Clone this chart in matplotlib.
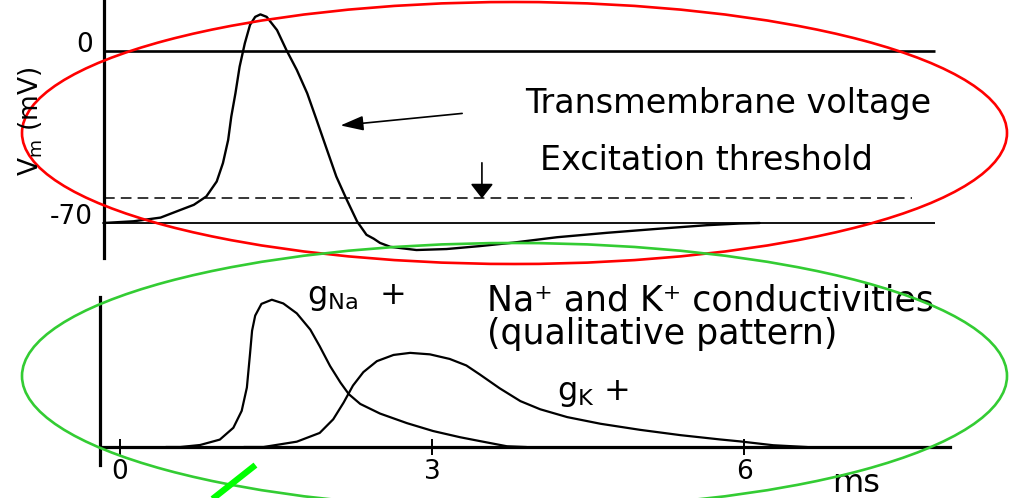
import matplotlib
matplotlib.use("Agg")
import matplotlib.pyplot as plt
from matplotlib.patches import Ellipse
from matplotlib.lines import Line2D
from matplotlib.transforms import offset_copy

plt.rcParams['font.family'] = ['DejaVu Sans']
plt.rcParams['mathtext.default'] = 'regular'

# membrane potential during one action potential (ms, mV)
t_vm = [-0.16, 0.13, 0.39, 0.58, 0.71, 0.83, 0.93, 0.99, 1.04, 1.07, 1.11, 1.15,
        1.20, 1.25, 1.30, 1.35, 1.41, 1.51, 1.60, 1.70, 1.80, 1.89, 1.99, 2.08,
        2.18, 2.28, 2.37, 2.44, 2.50, 2.60, 2.85, 3.14, 3.46, 3.78, 4.20, 4.68,
        5.16, 5.64, 5.96, 6.15]
vm = [-70.0, -69.3, -67.8, -64.7, -62.6, -59.2, -53.1, -45.6, -36.2, -26.7, -17.2, -6.4,
      3.1, 10.6, 13.9, 14.9, 13.9, 8.5, 0.4, -7.7, -17.2, -28.0, -40.2, -51.1,
      -60.5, -69.4, -74.8, -76.4, -78.1, -79.7, -81.0, -80.6, -79.4, -78.0, -75.8, -74.0,
      -72.4, -70.9, -70.2, -70.0]
v_rest = -70
v_zero = 0
v_thresh = -60

# sodium and potassium conductance, arbitrary units
t_na = [0.45, 0.58, 0.77, 0.96, 1.09, 1.17, 1.22, 1.25, 1.27, 1.30, 1.36, 1.46, 1.57,
        1.70, 1.83, 1.92, 2.02, 2.12, 2.20, 2.31, 2.50, 2.76, 3.01, 3.27, 3.46, 3.72, 3.90]
g_na = [0.0, 0.0, 0.0135, 0.05, 0.13, 0.244, 0.402, 0.628, 0.786, 0.888, 0.967, 0.995, 0.97,
        0.903, 0.793, 0.681, 0.547, 0.435, 0.357, 0.291, 0.226, 0.161, 0.108, 0.066, 0.04,
        0.005, 0.0]
t_k = [1.20, 1.38, 1.70, 1.92, 2.05, 2.15, 2.24, 2.34, 2.47, 2.63, 2.79, 2.98, 3.17,
       3.33, 3.46, 3.65, 3.85, 4.04, 4.30, 4.62, 5.00, 5.39, 5.77, 5.96, 6.28, 6.60]
g_k = [0.0, 0.0, 0.036, 0.095, 0.187, 0.30, 0.415, 0.506, 0.58, 0.622, 0.636, 0.626, 0.595,
       0.551, 0.49, 0.397, 0.31, 0.255, 0.202, 0.157, 0.116, 0.08, 0.051, 0.038, 0.012, 0.0]

time_ticks = [0, 3, 6]
time_labels = ['0', '3', '6']
vm_ticks = [0, -70]
vm_labels = ['0', '-70']

W, H = 1018, 498
fig = plt.figure(figsize=(W / 100, H / 100), dpi=100)

# both panels span the full width, 104 px per ms, t=0 at x=120 px
px_per_ms = 104.0
x0_px = 120.0
xlim = (-x0_px / px_per_ms, (W - x0_px) / px_per_ms)
t_end = (935 - x0_px) / px_per_ms

# ---- top panel: membrane voltage
top_px = 270
ax1 = fig.add_axes([0, 1 - top_px / H, 1, top_px / H])
mv_per_px = 70 / 172.0
ax1.set_xlim(*xlim)
ax1.set_ylim(-(top_px - 51) * mv_per_px, 51 * mv_per_px)
for s in ['top', 'right', 'bottom']:
    ax1.spines[s].set_visible(False)
t_axis1 = (104 - x0_px) / px_per_ms
ax1.spines['left'].set_position(('data', t_axis1))
ax1.spines['left'].set_bounds(-(258 - 51) * mv_per_px, 51 * mv_per_px)
ax1.spines['left'].set_linewidth(2.3)
ax1.set_xticks([])
ax1.set_yticks([])

# axis values sit a little above their lines
lab_tr = offset_copy(ax1.transData, fig=fig, x=-8, y=4, units='points')
for v, s in zip(vm_ticks, vm_labels):
    ax1.text(t_axis1, v, s, fontsize=19, ha='right', va='center', transform=lab_tr)

ax1.hlines(v_zero, t_axis1, t_end, color='black', lw=1.9)
ax1.hlines(v_rest, t_axis1, t_end, color='black', lw=1.3)
ax1.hlines(v_thresh, t_axis1, (912 - x0_px) / px_per_ms, color='black', lw=1.1,
           linestyles=(0, (7, 4)))
ax1.plot(t_vm, vm, color='black', lw=1.7, solid_capstyle='round', solid_joinstyle='round')

ax1.annotate('', xy=(2.12, -30.3), xytext=(3.29, -25.4),
             arrowprops=dict(arrowstyle='-|>,head_length=1.4,head_width=0.45',
                             color='black', lw=1.2, shrinkA=0, shrinkB=0))
ax1.annotate('', xy=(3.48, v_thresh), xytext=(3.48, -45.5),
             arrowprops=dict(arrowstyle='-|>,head_length=0.9,head_width=0.7',
                             color='black', lw=1.2, shrinkA=0, shrinkB=0))
ax1.text(5.85, -21.3, 'Transmembrane voltage', fontsize=24, ha='center', va='center')
ax1.text(5.64, -44.6, 'Excitation threshold', fontsize=24, ha='center', va='center')

fig.text(31 / W, 1 - 121 / H, 'V$_m$ (mV)', fontsize=19, rotation=90,
         ha='center', va='center')

# ---- bottom panel: conductances
bot_px = H - top_px
base_px = 447
g_per_px = 1 / 148.0
ax2 = fig.add_axes([0, 0, 1, bot_px / H])
ax2.set_xlim(*xlim)
ax2.set_ylim(-(H - base_px) * g_per_px, (base_px - top_px) * g_per_px)
for s in ['top', 'right']:
    ax2.spines[s].set_visible(False)
t_axis2 = (100 - x0_px) / px_per_ms
ax2.spines['left'].set_position(('data', t_axis2))
ax2.spines['left'].set_bounds(-(465 - base_px) * g_per_px, (base_px - 297) * g_per_px)
ax2.spines['left'].set_linewidth(2.3)
ax2.spines['bottom'].set_position(('data', 0))
ax2.spines['bottom'].set_bounds(t_axis2, (950 - x0_px) / px_per_ms)
ax2.spines['bottom'].set_linewidth(2.3)
ax2.set_yticks([])
ax2.set_xticks(time_ticks)
ax2.set_xticklabels(time_labels, fontsize=19)
ax2.tick_params(axis='x', direction='inout', length=11, width=1.4, pad=3)

ax2.plot(t_na, g_na, color='black', lw=1.6, solid_joinstyle='round')
ax2.plot(t_k, g_k, color='black', lw=1.6, solid_joinstyle='round')

ax2.text(1.8, (base_px - 304) * g_per_px, 'g$_{Na}$  +', fontsize=23,
         ha='left', va='baseline')
ax2.text(4.2, (base_px - 400) * g_per_px, 'g$_K$ +', fontsize=23,
         ha='left', va='baseline')
ax2.text(3.53, (base_px - 300) * g_per_px, 'Na\u207a and K\u207a conductivities',
         fontsize=25, ha='left', va='center')
ax2.text(3.53, (base_px - 334) * g_per_px, '(qualitative pattern)',
         fontsize=25, ha='left', va='center')
ax2.text(6.85, (base_px - 492) * g_per_px, 'ms', fontsize=23, ha='left', va='baseline')

# hand-drawn highlight marks over the figure
fig.patches.append(Ellipse((514.5 / W, 1 - 133 / H), 985 / W, 262 / H,
                           transform=fig.transFigure, fill=False,
                           edgecolor='#ff0000', lw=1.9))
fig.patches.append(Ellipse((514.5 / W, 1 - 376 / H), 985 / W, 266 / H,
                           transform=fig.transFigure, fill=False,
                           edgecolor='#33cc33', lw=1.9))
fig.lines.append(Line2D([215 / W, 253 / W], [1 - 497 / H, 1 - 467 / H],
                        transform=fig.transFigure, color='#00ff00', lw=4.5))

fig.savefig('out.png', dpi=100)
